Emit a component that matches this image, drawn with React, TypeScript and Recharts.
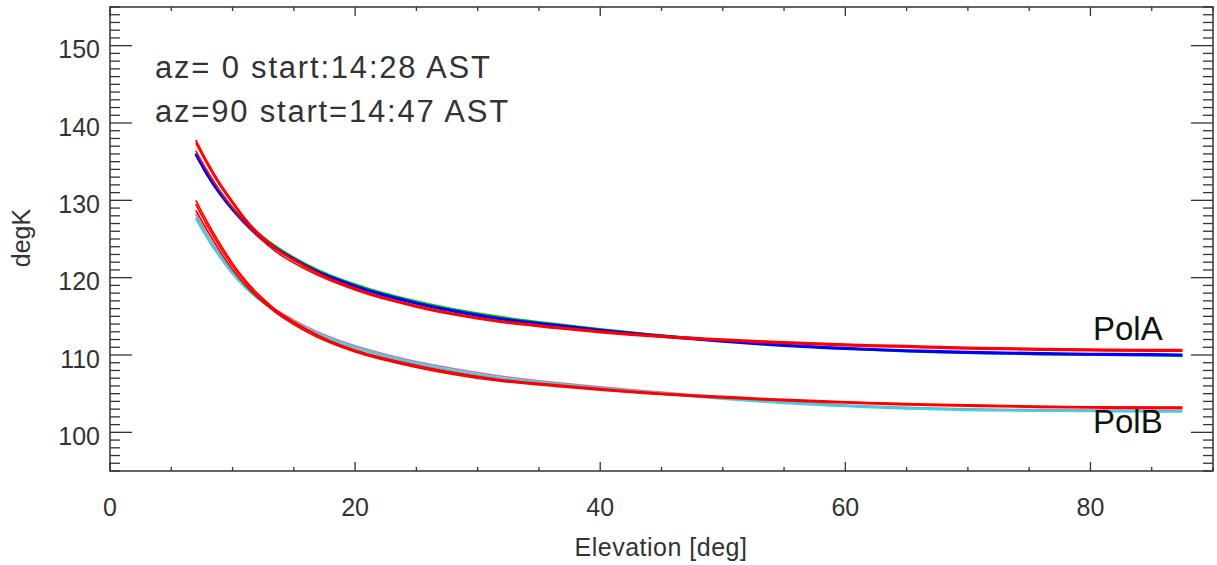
import { LineChart, Line, XAxis, YAxis, ReferenceArea } from "recharts";

// elevation grid (deg) shared by every trace
const ELEV = [7, 8, 9, 10, 11, 12, 13, 14, 16, 18, 20, 22, 25, 28, 32, 36, 40, 45, 50, 55, 60, 65, 70, 75, 80, 85, 87.5];

// PolA measured traces
const POLA_BLUE = [136.0, 133.2, 130.85, 128.85, 127.1, 125.65, 124.4, 123.3, 121.5, 120.05, 118.9, 117.9, 116.7, 115.7, 114.65, 113.9, 113.2, 112.45, 111.8, 111.25, 110.85, 110.55, 110.35, 110.2, 110.1, 110.05, 110.0];
const POLA_GREEN = [136.1, 133.35, 131.05, 129.05, 127.35, 125.9, 124.65, 123.55, 121.75, 120.3, 119.15, 118.15, 116.95, 115.95, 114.9, 114.1, 113.35, 112.55, 111.85, 111.25, 110.8, 110.45, 110.25, 110.1, 110.0, 109.95, 109.85];
const POLA_BLACK = [136.0, 133.3, 130.95, 128.95, 127.2, 125.75, 124.5, 123.4, 121.6, 120.15, 119.0, 118.0, 116.8, 115.8, 114.75, 114.0, 113.3, 112.5, 111.85, 111.3, 110.9, 110.6, 110.4, 110.25, 110.15, 110.1, 110.05];
// PolA model curves (red)
const POLA_FIT1 = [137.8, 134.8, 132.15, 129.85, 127.7, 125.95, 124.5, 123.3, 121.45, 119.85, 118.65, 117.6, 116.4, 115.4, 114.4, 113.7, 113.1, 112.5, 112.05, 111.7, 111.4, 111.2, 111.0, 110.85, 110.75, 110.7, 110.7];
const POLA_FIT2 = [137.4, 134.45, 131.85, 129.6, 127.5, 125.8, 124.4, 123.2, 121.3, 119.75, 118.55, 117.5, 116.3, 115.3, 114.3, 113.6, 113.0, 112.4, 111.95, 111.6, 111.3, 111.1, 110.9, 110.75, 110.65, 110.6, 110.6];
const POLA_FIT3 = [136.4, 133.6, 131.15, 129.0, 127.0, 125.4, 124.05, 122.85, 121.05, 119.6, 118.4, 117.4, 116.2, 115.2, 114.2, 113.5, 112.9, 112.3, 111.85, 111.5, 111.2, 111.0, 110.8, 110.65, 110.55, 110.5, 110.5];

// PolB measured traces
const POLB_CYAN = [127.7, 125.0, 122.65, 120.55, 118.8, 117.4, 116.2, 115.15, 113.45, 112.05, 110.95, 110.05, 108.9, 108.0, 107.0, 106.3, 105.7, 105.0, 104.35, 103.8, 103.4, 103.1, 102.9, 102.8, 102.75, 102.7, 102.7];
const POLB_PINK = [128.2, 125.35, 122.95, 120.8, 119.05, 117.65, 116.45, 115.4, 113.7, 112.3, 111.2, 110.3, 109.15, 108.25, 107.25, 106.5, 105.9, 105.2, 104.55, 104.0, 103.55, 103.25, 103.05, 102.95, 102.9, 102.85, 102.85];
// PolB model curves (red)
const POLB_FIT1 = [130.0, 127.0, 124.3, 121.85, 119.75, 118.0, 116.55, 115.3, 113.35, 111.8, 110.65, 109.75, 108.65, 107.75, 106.8, 106.2, 105.65, 105.05, 104.65, 104.25, 103.95, 103.7, 103.55, 103.4, 103.3, 103.25, 103.25];
const POLB_FIT2 = [129.5, 126.55, 123.9, 121.5, 119.45, 117.75, 116.35, 115.15, 113.25, 111.7, 110.55, 109.65, 108.55, 107.65, 106.7, 106.1, 105.55, 104.95, 104.55, 104.15, 103.9, 103.65, 103.5, 103.35, 103.25, 103.2, 103.2];
const POLB_FIT3 = [128.7, 125.9, 123.35, 121.05, 119.1, 117.5, 116.15, 114.95, 113.05, 111.55, 110.4, 109.5, 108.4, 107.5, 106.6, 106.0, 105.45, 104.9, 104.45, 104.1, 103.8, 103.55, 103.4, 103.25, 103.15, 103.1, 103.1];

const X_TICKS = Array.from({ length: 19 }, (_, i) => i * 5); // 0..90, labels every 20
const Y_TICKS = Array.from({ length: 61 }, (_, i) => 95 + i); // 95..155, labels every 10

const TITLE_LINES = ["az= 0 start:14:28 AST", "az=90 start=14:47 AST"];

const W = 1217;
const H = 565;
const MARGIN = { top: 7, right: 4, bottom: 0, left: 0 };
const Y_AXIS_W = 110;
const X_AXIS_H = 94;
const PLOT_W = W - MARGIN.left - MARGIN.right - Y_AXIS_W;
const PLOT_H = H - MARGIN.top - MARGIN.bottom - X_AXIS_H;
const AXIS = "#333";
const FONT = "'Liberation Sans', Arial, Helvetica, sans-serif";

const rows = ELEV.map((e, i) => ({
  elev: e,
  aBlue: POLA_BLUE[i], aGreen: POLA_GREEN[i], aBlack: POLA_BLACK[i],
  aFit1: POLA_FIT1[i], aFit2: POLA_FIT2[i], aFit3: POLA_FIT3[i],
  bCyan: POLB_CYAN[i], bPink: POLB_PINK[i],
  bFit1: POLB_FIT1[i], bFit2: POLB_FIT2[i], bFit3: POLB_FIT3[i],
}));

function YTick({ x, y, payload }: any) {
  const v = payload.value;
  const major = v % 10 === 0;
  const ax = x + 10;
  const len = major ? 22 : 10;
  return (
    <g>
      <line x1={ax} x2={ax + len} y1={y} y2={y} stroke={AXIS} strokeWidth={1.3} />
      <line x1={ax + PLOT_W} x2={ax + PLOT_W - len} y1={y} y2={y} stroke={AXIS} strokeWidth={1.3} />
      {major && (
        <text x={x} y={y} dy={12.5} textAnchor="end" fill="#333" fontSize={25} fontFamily={FONT}>{v}</text>
      )}
    </g>
  );
}

function XTick({ x, y, payload }: any) {
  const v = payload.value;
  const major = v % 20 === 0;
  const ay = y - 27;
  const len = major ? 9 : 4;
  return (
    <g>
      <line x1={x} x2={x} y1={ay} y2={ay - len} stroke={AXIS} strokeWidth={1.3} />
      <line x1={x} x2={x} y1={ay - PLOT_H} y2={ay - PLOT_H + len} stroke={AXIS} strokeWidth={1.3} />
      {major && v < 90 && (
        <text x={x} y={y} dy="0.71em" textAnchor="middle" fill="#333" fontSize={25} fontFamily={FONT}>{v}</text>
      )}
    </g>
  );
}

export default function App() {
  const base = { dot: false, isAnimationActive: false, type: "natural" as const };
  const red = { ...base, stroke: "#ff0000", strokeWidth: 1.7 };
  return (
    <div style={{ position: "absolute", left: 0, top: 0, width: W, height: H, background: "#fff" }}>
      <LineChart width={W} height={H} data={rows} margin={MARGIN}>
        <XAxis dataKey="elev" type="number" domain={[0, 90]} ticks={X_TICKS} interval={0}
          tickSize={0} tickMargin={27} tick={<XTick />} axisLine={false} height={X_AXIS_H} />
        <YAxis type="number" domain={[95, 155]} ticks={Y_TICKS} interval={0}
          tickSize={0} tickMargin={10} tick={<YTick />} axisLine={false} width={Y_AXIS_W} />
        <ReferenceArea x1={0} x2={90} y1={95} y2={155} fill="none" stroke={AXIS} strokeWidth={1.5} />
        <Line dataKey="aBlack" {...base} stroke="#000" strokeWidth={1} />
        <Line dataKey="aGreen" {...base} stroke="#00c000" strokeWidth={2} />
        <Line dataKey="aBlue" {...base} stroke="#0000ff" strokeWidth={3.2} />
        <Line dataKey="bPink" {...base} stroke="#d070a8" strokeWidth={1.5} />
        <Line dataKey="bCyan" {...base} stroke="#40d0e0" strokeWidth={2.6} />
        <Line dataKey="aFit1" {...red} />
        <Line dataKey="aFit2" {...red} />
        <Line dataKey="aFit3" {...red} />
        <Line dataKey="bFit1" {...red} />
        <Line dataKey="bFit2" {...red} />
        <Line dataKey="bFit3" {...red} />
      </LineChart>
      <svg width={W} height={H} style={{ position: "absolute", left: 0, top: 0, pointerEvents: "none" }}>
        <text x={155} y={78} fontSize={31} letterSpacing={1.8} fill="#333" fontFamily={FONT}>{TITLE_LINES[0]}</text>
        <text x={155} y={122} fontSize={31} letterSpacing={1.8} fill="#333" fontFamily={FONT}>{TITLE_LINES[1]}</text>
        <text x={1093} y={340} fontSize={33} fill="#111" fontFamily={FONT}>PolA</text>
        <text x={1093} y={433} fontSize={33} fill="#111" fontFamily={FONT}>PolB</text>
        <text x={661} y={556} fontSize={25} letterSpacing={0.5} textAnchor="middle" fill="#333" fontFamily={FONT}>Elevation [deg]</text>
        <text x={0} y={0} transform="translate(30 238) rotate(-90)" fontSize={25} textAnchor="middle" fill="#333" fontFamily={FONT}>degK</text>
      </svg>
    </div>
  );
}
